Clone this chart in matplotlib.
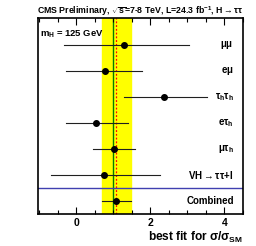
import matplotlib
matplotlib.use("Agg")
from matplotlib import pyplot as plt
from matplotlib.ticker import MultipleLocator

plt.rcParams['font.family'] = ['Liberation Sans', 'DejaVu Sans']
plt.rcParams['mathtext.fontset'] = 'custom'
plt.rcParams['mathtext.rm'] = 'Liberation Sans:bold'
plt.rcParams['mathtext.bf'] = 'Liberation Sans:bold'
plt.rcParams['mathtext.it'] = 'Liberation Sans:bold'

channels = [r'$\mu\mu$', r'e$\mu$', r'$\tau_h\tau_h$', r'e$\tau_h$', r'$\mu\tau_h$',
            r'VH$\rightarrow\tau\tau$+l', 'Combined']
bestfit = [1.30, 0.78, 2.38, 0.55, 1.03, 0.76, 1.08]
err_lo = [-0.33, -0.26, 1.29, -0.26, 0.46, -0.68, 0.69]
err_hi = [3.05, 1.79, 3.52, 1.39, 1.60, 2.26, 1.47]
ypos = [6, 5, 4, 3, 2, 1, 0]
comb_lo, comb_hi = 0.69, 1.47
comb_val = 1.08

fig = plt.figure(figsize=(2.56, 2.46), dpi=100)
ax = fig.add_axes([0.148, 0.130, 0.801, 0.797])

ax.axvspan(comb_lo, comb_hi, color='#ffff00', zorder=0)
ax.axvline(1.0, color='#008000', lw=1.0, zorder=1)
ax.axvline(comb_val, color='red', lw=0.9, ls=(0, (1.5, 1.5)), zorder=1)
ax.axhline(0.5, color='#4040b0', lw=1.0, zorder=1)

for y, v, lo, hi in zip(ypos, bestfit, err_lo, err_hi):
    ax.plot([lo, hi], [y, y], color='#202020', lw=0.8, zorder=2)
    ax.plot([v], [y], 'o', color='black', ms=4, zorder=3)

for y, lab in zip(ypos, channels):
    ax.text(4.25, y, lab, ha='right', va='center', fontsize=7, fontweight='bold')

ax.text(-0.97, 6.4, r'm$_H$ = 125 GeV', fontsize=6.8, fontweight='bold', va='center')

ax.set_xlim(-1.03, 4.5)
ax.set_ylim(-0.5, 7.03)
ax.set_yticks([])
ax.xaxis.set_major_locator(MultipleLocator(2))
ax.xaxis.set_minor_locator(MultipleLocator(0.5))
ax.tick_params(axis='x', which='both', direction='in', top=True, labelsize=7.5,
               width=0.8, pad=3)
ax.tick_params(axis='x', which='major', length=5)
ax.tick_params(axis='x', which='minor', length=3)
for t in ax.get_xticklabels():
    t.set_fontweight('bold')
for s in ax.spines.values():
    s.set_linewidth(1.2)

ax.set_title(r'CMS Preliminary, $\sqrt{s}$=7-8 TeV, L=24.3 fb$^{-1}$, H$\rightarrow\tau\tau$',
             fontsize=6.3, fontweight='bold', pad=1)
ax.set_xlabel(r'best fit for $\sigma/\sigma_{SM}$', fontsize=8.6, fontweight='bold',
              loc='right', labelpad=1)

fig.savefig('out.png', dpi=100)
